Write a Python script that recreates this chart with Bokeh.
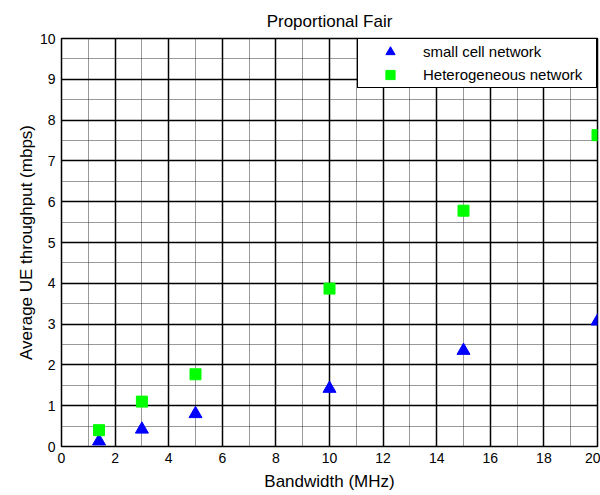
from bokeh.plotting import figure
from bokeh.models import Range1d, SingleIntervalTicker, Legend, LegendItem, ColumnDataSource
from bokeh.embed import file_html
from bokeh.resources import INLINE

bandwidth = [1.4, 3, 5, 10, 15, 20]
small_cell = [0.13, 0.42, 0.8, 1.42, 2.35, 3.07]
heterogeneous = [0.4, 1.1, 1.77, 3.87, 5.78, 7.63]

x_ticks_interval = 2
y_ticks_interval = 1

FONT = "Liberation Sans"

p = figure(width=600, height=495, output_backend="svg", toolbar_location=None,
           x_range=Range1d(0, 20), y_range=Range1d(0, 10),
           min_border_left=61, min_border_right=3, min_border_top=38, min_border_bottom=49,
           title="Proportional Fair")

p.title.text_font = FONT
p.title.text_font_size = "17px"
p.title.text_font_style = "normal"
p.title.align = "center"
p.title.text_color = "black"
p.title.standoff = 16

p.xaxis.ticker = SingleIntervalTicker(interval=x_ticks_interval, num_minor_ticks=2)
p.yaxis.ticker = SingleIntervalTicker(interval=y_ticks_interval, num_minor_ticks=2)

for ax in (p.xaxis[0], p.yaxis[0]):
    ax.major_label_text_font = FONT
    ax.major_label_text_font_size = "14px"
    ax.major_label_text_color = "black"
    ax.axis_label_text_font = FONT
    ax.axis_label_text_font_size = "17px"
    ax.axis_label_text_font_style = "normal"
    ax.axis_label_text_color = "black"
    ax.major_tick_in = 5
    ax.major_tick_out = 0
    ax.minor_tick_in = 0
    ax.minor_tick_out = 0
    ax.axis_line_color = "black"
    ax.major_tick_line_color = "black"

p.xaxis.axis_label = "Bandwidth (MHz)"
p.yaxis.axis_label = "Average UE throughput (mbps)"
p.xaxis.major_label_standoff = 6
p.yaxis.major_label_standoff = 6
p.xaxis.axis_label_standoff = 6
p.yaxis.axis_label_standoff = 1

for g in (p.xgrid[0], p.ygrid[0]):
    g.grid_line_color = "black"
    g.grid_line_width = 1.5
    g.grid_line_alpha = 1.0
    g.minor_grid_line_color = "#333333"
    g.minor_grid_line_dash = "1 1"
    g.minor_grid_line_width = 1

p.outline_line_color = "black"
p.outline_line_width = 1.5
p.outline_line_alpha = 1.0
p.background_fill_color = "white"
p.border_fill_color = "white"

src1 = ColumnDataSource(dict(x=bandwidth, y=small_cell))
src2 = ColumnDataSource(dict(x=bandwidth, y=heterogeneous))
r1 = p.scatter("x", "y", source=src1, marker="triangle", size=13,
               fill_color="#0000FF", line_color="#0000FF")
r2 = p.scatter("x", "y", source=src2, marker="square", size=11,
               fill_color="#00FF00", line_color="#00FF00")

legend = Legend(items=[LegendItem(label="small cell network", renderers=[r1]),
                       LegendItem(label="Heterogeneous network", renderers=[r2])],
                location="top_right")
legend.margin = 0
legend.padding = 1
legend.spacing = 0
legend.glyph_width = 62
legend.glyph_height = 23
legend.label_height = 20
legend.label_standoff = 2
legend.label_width = 172
legend.label_text_font = FONT
legend.label_text_font_size = "15px"
legend.label_text_color = "black"
legend.border_line_color = "black"
legend.border_line_width = 1.5
legend.border_line_alpha = 1.0
legend.background_fill_alpha = 1.0
p.add_layout(legend, "center")

open("out.html", "w").write(file_html(p, INLINE))
